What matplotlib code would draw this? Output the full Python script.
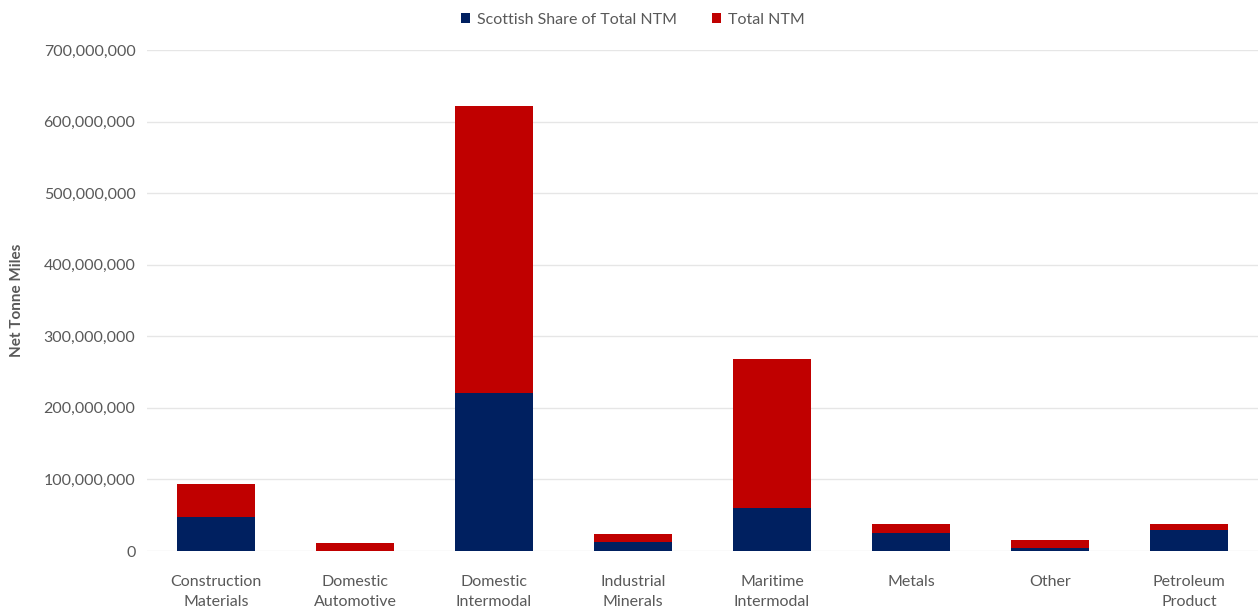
import matplotlib
matplotlib.use("Agg")
import matplotlib.pyplot as plt
from matplotlib.ticker import FuncFormatter
import numpy as np

categories = ["Construction\nMaterials", "Domestic\nAutomotive", "Domestic\nIntermodal",
              "Industrial\nMinerals", "Maritime\nIntermodal", "Metals", "Other",
              "Petroleum\nProduct"]
total_ntm = [93.5e6, 11e6, 622e6, 23.5e6, 268e6, 37.5e6, 15e6, 37.5e6]
scottish_share = [47.5e6, 0.5e6, 221e6, 13e6, 60e6, 25e6, 4e6, 30e6]

NAVY = "#002060"
RED = "#C00000"
TXT = "#595959"

plt.rcParams["font.family"] = ["Lato", "DejaVu Sans"]

fig = plt.figure(figsize=(12.6, 6.13), dpi=100)
ax = fig.add_axes([0.1163, 0.1011, 0.8825, 0.8173])

x = np.arange(len(categories))
# total drawn from the baseline, Scottish share over it
ax.bar(x, total_ntm, width=0.56, color=RED, label="Total NTM", zorder=2)
ax.bar(x, scottish_share, width=0.56, color=NAVY, label="Scottish Share of Total NTM", zorder=3)

ax.set_xlim(-0.5, len(categories) - 0.5)
ax.set_ylim(0, 700e6)
ax.set_yticks(np.arange(0, 700e6 + 1, 100e6))
ax.yaxis.set_major_formatter(FuncFormatter(lambda v, _: f"{v:,.0f}"))
ax.set_xticks(x)
ax.set_xticklabels(categories, linespacing=1.55)
ax.grid(axis="y", color="#E6E6E6", lw=1, zorder=0)
for s in ax.spines.values():
    s.set_visible(False)
ax.tick_params(length=0, labelsize=11.5, colors=TXT, pad=8)
ax.tick_params(axis="x", pad=17)
ax.set_ylabel("Net Tonne Miles", fontsize=11, fontweight="bold", color=TXT, labelpad=14)

h, l = ax.get_legend_handles_labels()
fig.legend(h[::-1], l[::-1], loc="center", bbox_to_anchor=(0.502, 0.968), ncol=2,
           frameon=False, fontsize=11.5, labelcolor=TXT, handlelength=0.6,
           handleheight=0.6, columnspacing=2.2, handletextpad=0.4)

fig.savefig("out.png", dpi=100)
